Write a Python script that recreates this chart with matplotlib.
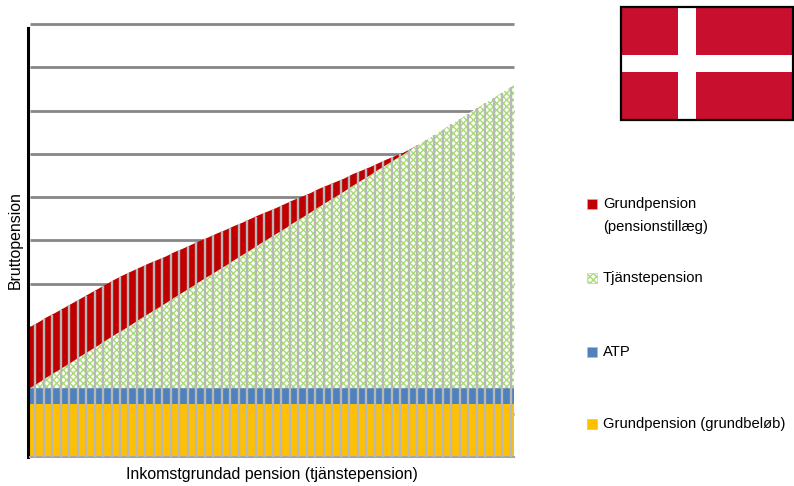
import numpy as np
import matplotlib
matplotlib.use("Agg")
import matplotlib.pyplot as plt
from matplotlib.patches import Rectangle

plt.rcParams['font.family'] = ['Liberation Sans', 'DejaVu Sans']
plt.rcParams['hatch.linewidth'] = 1.0

# Values, one grid step = 1 unit
grundbelopp = [1.22] * 58
atp = [0.37] * 58
tjanstepension = [0, .12, .25, .37, .49, .61, .74, .86, .98, 1.11, 1.23, 1.35, 1.47, 1.60, 1.72,
                  1.84, 1.96, 2.09, 2.21, 2.33, 2.46, 2.58, 2.70, 2.82, 2.95, 3.07, 3.19, 3.32,
                  3.44, 3.56, 3.68, 3.81, 3.93, 4.05, 4.18, 4.30, 4.42, 4.54, 4.67, 4.79, 4.91,
                  5.04, 5.16, 5.28, 5.40, 5.53, 5.65, 5.77, 5.89, 6.02, 6.14, 6.26, 6.39, 6.51,
                  6.63, 6.75, 6.88, 7.00]
pensionstillagg = [1.41, 1.40, 1.39, 1.37, 1.36, 1.35, 1.33, 1.32, 1.31, 1.29, 1.28, 1.26,
                   1.23, 1.19, 1.16, 1.12, 1.08, 1.05, 1.01, .98, .94, .90, .87, .83, .79, .75,
                   .72, .68, .64, .60, .57, .53, .49, .45, .42, .38, .34, .30, .27, .23, .19,
                   .15, .12, .08, .04, .01, 0, 0, 0, 0, 0, 0, 0, 0, 0, 0, 0, 0]

legend_labels = ["Grundpension\n(pensionstillæg)", "Tjänstepension", "ATP", "Grundpension (grundbeløb)"]

YELLOW = '#FFC000'
BLUE = '#4F81BD'
RED = '#C00000'
GREEN = '#A6DC72'
GRAY = '#B8B8B8'
FONT_SIZE = 11.4
LEGEND_SIZE = 10.6

x = np.arange(len(grundbelopp))
total = np.array(grundbelopp) + np.array(atp) + np.array(tjanstepension) + np.array(pensionstillagg)

fig = plt.figure(figsize=(7.94, 4.86), dpi=100)
ax = fig.add_axes([30 / 794, 1 - 457 / 486, 484 / 794, 433 / 486])

for level in range(1, 11):
    ax.axhline(level, color='#868686', lw=2, zorder=1, clip_on=False, solid_capstyle='butt')

areas = ax.stackplot(x, grundbelopp, atp, tjanstepension, pensionstillagg,
                     colors=[YELLOW, BLUE, 'white', RED], lw=0, zorder=2)
areas[2].set_facecolor((1, 1, 1, 0.93))
areas[2].set_hatch('xxxxx')
areas[2].set_edgecolor(GREEN)
areas[2].set_linewidth(0)

# gray separators of the columns
ticks = x[:-1] + 0.6
ax.vlines(ticks, 0, np.interp(ticks, x, total), color=GRAY, lw=1.7, zorder=3)

ax.set_xlim(0, x[-1])
ax.set_ylim(0, 10)
ax.set_xticks([])
ax.set_yticks([])
ax.patch.set_alpha(0)
for side in ['top', 'right']:
    ax.spines[side].set_visible(False)
ax.spines['bottom'].set_color('#A6A6A6')
ax.spines['bottom'].set_linewidth(1.5)
ax.spines['left'].set_linewidth(2.2)
ax.spines['left'].set_position(('outward', 1.5))
ax.spines['left'].set_bounds(0, 9.9)

# overlay in pixel coordinates for the labels, the legend and the flag
over = fig.add_axes([0, 0, 1, 1])
over.set_xlim(0, 794)
over.set_ylim(486, 0)
over.axis('off')

over.text(272, 474, "Inkomstgrundad pension (tjänstepension)", ha='center', va='center', fontsize=FONT_SIZE)
over.text(15, 240, "Bruttopension", rotation=90, ha='center', va='center', fontsize=FONT_SIZE)

legend_colors = [RED, 'white', BLUE, YELLOW]
legend_y = [204, 278, 352, 424]
for label, col, ly in zip(legend_labels, legend_colors, legend_y):
    patch = Rectangle((587, ly - 5), 10, 10, facecolor=col, edgecolor='#BBBBBB', lw=0.4)
    if col == 'white':
        patch.set_hatch('xxxxx')
        patch.set_edgecolor(GREEN)
    over.add_patch(patch)
    over.text(603, ly - 0.5, label.split("\n")[0], va='center', fontsize=LEGEND_SIZE)
    if "\n" in label:
        over.text(603, ly + 23, label.split("\n")[1], va='center', fontsize=LEGEND_SIZE)

# Danish flag
over.add_patch(Rectangle((621, 7), 172, 113, facecolor='#C8102E', edgecolor='none'))
over.add_patch(Rectangle((621, 55), 172, 17, facecolor='white', edgecolor='none'))
over.add_patch(Rectangle((678, 7), 18, 113, facecolor='white', edgecolor='none'))
over.add_patch(Rectangle((621, 7), 172, 113, facecolor='none', edgecolor='black', lw=1.6))

plt.savefig("out.png", dpi=100)
